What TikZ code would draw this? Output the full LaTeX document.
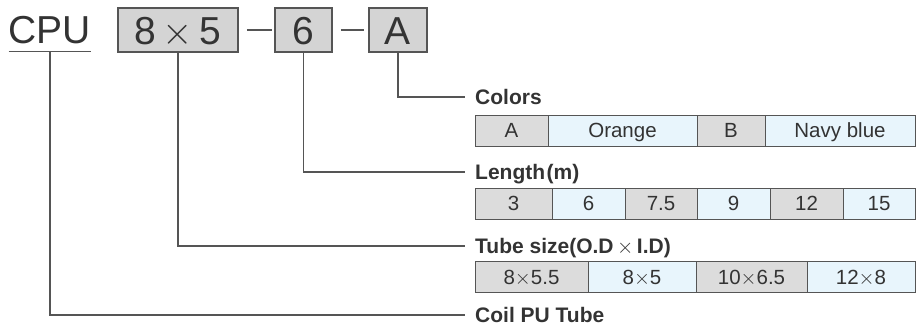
\RequirePackage{fix-cm}
\documentclass[tikz,border=0pt]{standalone}
\usepackage{fontspec}
\setmainfont{Liberation Sans}
\definecolor{txt}{HTML}{333333}
\definecolor{ln}{HTML}{555555}
\definecolor{boxgray}{HTML}{D4D4D4}
\definecolor{cellgray}{HTML}{DCDCDC}
\definecolor{cellblue}{HTML}{E8F5FC}
\begin{document}
\begin{tikzpicture}[x=1pt,y=-1pt,
  code/.style={draw=ln, line width=1.5pt, fill=boxgray, minimum height=44pt, inner sep=0pt, text height=28pt, text depth=0pt, text=txt, font=\fontsize{39}{39}\selectfont},
  lab/.style={anchor=west, inner xsep=10pt, inner ysep=0pt, text height=15pt, text depth=0pt, text=txt, font=\bfseries\fontsize{21}{24}\selectfont},
  cell/.style={draw=ln, line width=1pt, anchor=west, outer sep=0pt, minimum height=31pt, inner sep=0pt, text height=14.7pt, text depth=0pt, text=txt, font=\fontsize{20.5}{24}\selectfont},
  gcell/.style={cell, fill=cellgray},
  bcell/.style={cell, fill=cellblue},
  conn/.style={draw=ln, line width=1.3pt},
]
\useasboundingbox (0,0) rectangle (919,327);

% code line
\node[anchor=base, inner xsep=0pt, inner ysep=8pt, text depth=0pt, text=txt, font=\fontsize{39}{39}\selectfont] (cpu) at (50,43) {CPU};
\draw[conn] (cpu.south west) -- (cpu.south east);
\node[code, minimum width=120pt] (b1) at (178,30) {8$\,\times\,$5};
\node[code, minimum width=57pt] (b2) at (303.5,30) {6};
\node[code, minimum width=58pt] (b3) at (398,30) {A};
\draw[conn] ([xshift=8pt]b1.east) -- ([xshift=33pt]b1.east);
\draw[conn] ([xshift=8pt]b2.east) -- ([xshift=31pt]b2.east);

% labels
\node[lab] (colors) at (465,97) {Colors};
\node[lab] (length) at (465,172) {Length\kern1.5pt(m)};
\node[lab] (tube) at (465,246) {Tube size(O.D$\,\times\,$I.D)};
\node[lab] (coil) at (465,315) {Coil PU Tube};

% connectors
\draw[conn] (b3.south) |- (colors.west);
\draw[conn] (b2.south) |- (length.west);
\draw[conn] (b1.south) |- (tube.west);
\draw[conn] (cpu.south) |- (coil.west);

% colors table
\node[gcell, minimum width=73pt] (c1) at (475,130.5) {A};
\node[bcell, minimum width=149pt] (c2) at (c1.east) {Orange};
\node[gcell, minimum width=68pt] (c3) at (c2.east) {B};
\node[bcell, minimum width=150pt] (c4) at (c3.east) {Navy blue};

% length table
\node[gcell, minimum width=77pt] (l1) at (475,203.5) {3};
\node[bcell, minimum width=73pt] (l2) at (l1.east) {6};
\node[gcell, minimum width=72pt] (l3) at (l2.east) {7.5};
\node[bcell, minimum width=73pt] (l4) at (l3.east) {9};
\node[gcell, minimum width=73pt] (l5) at (l4.east) {12};
\node[bcell, minimum width=72pt] (l6) at (l5.east) {15};

% tube size table
\node[gcell, minimum width=113pt] (t1) at (475,277) {8$\times$5.5};
\node[bcell, minimum width=108pt] (t2) at (t1.east) {8$\times$5};
\node[gcell, minimum width=111pt] (t3) at (t2.east) {10$\times$6.5};
\node[bcell, minimum width=108pt] (t4) at (t3.east) {12$\times$8};
\end{tikzpicture}
\end{document}
